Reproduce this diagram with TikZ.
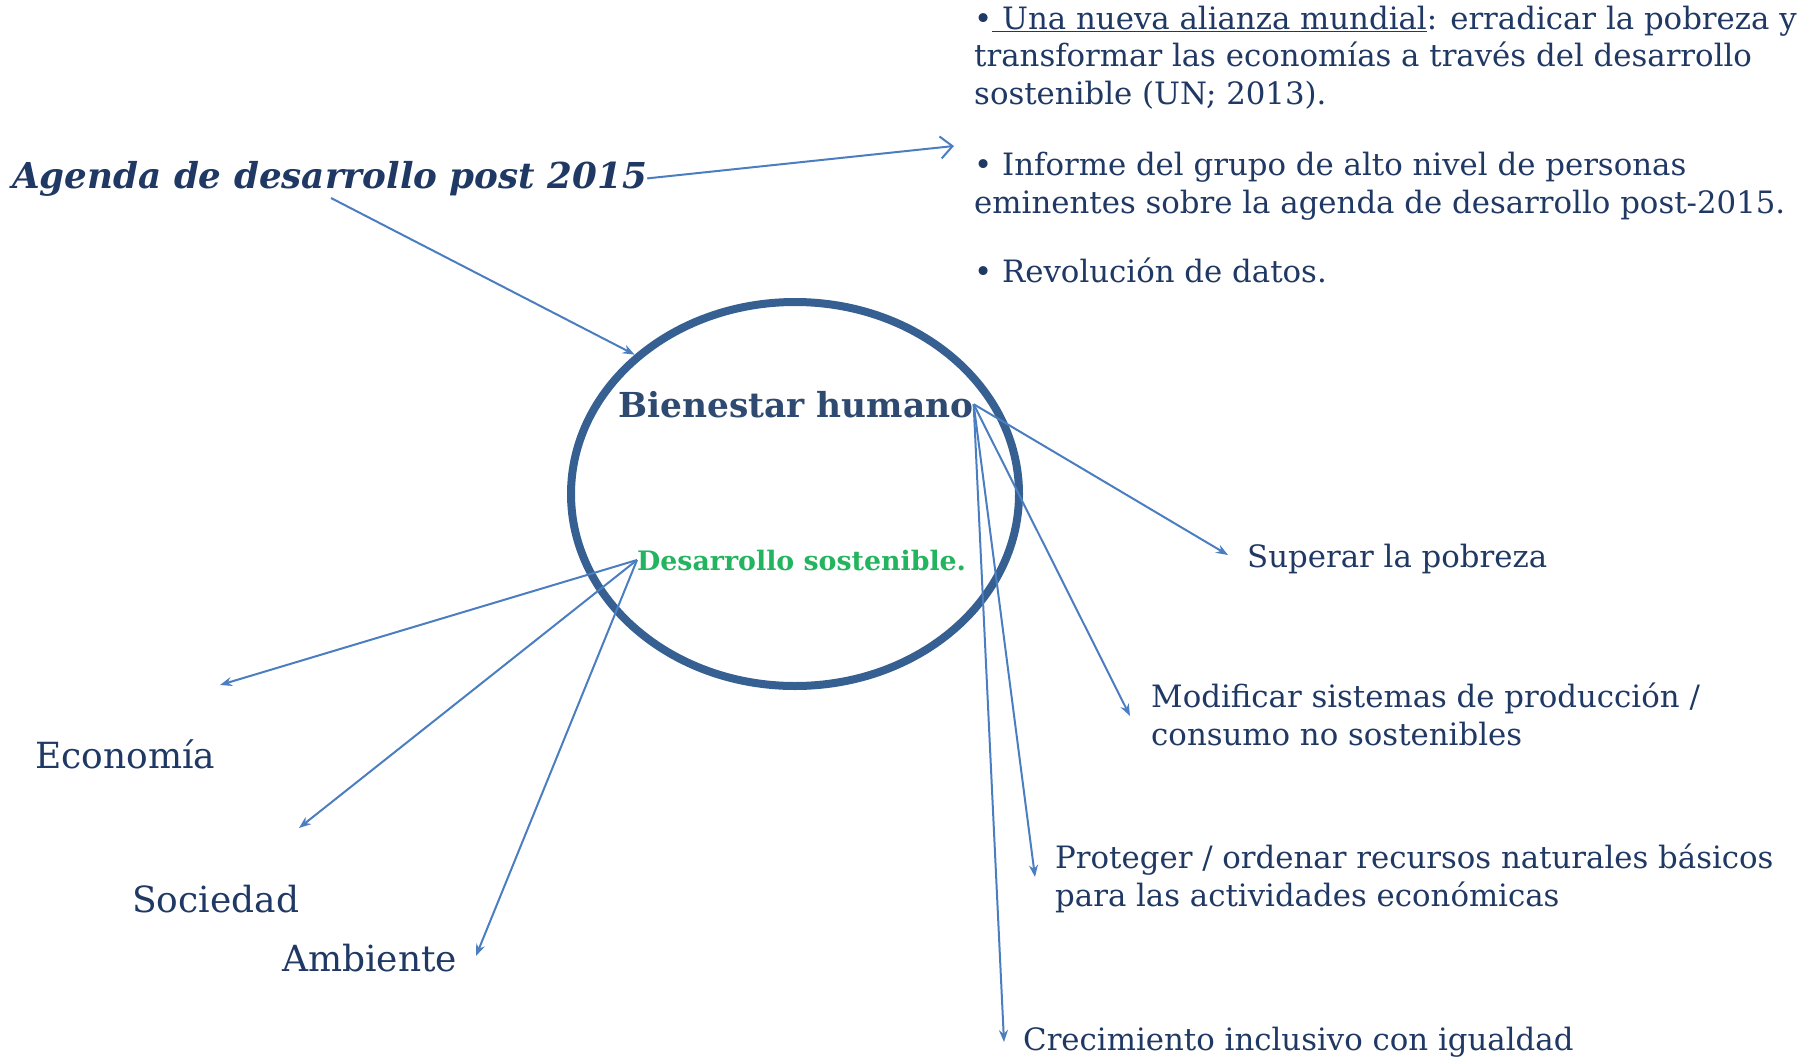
\documentclass[tikz,border=0pt]{standalone}
\usepackage{fontspec}
\setmainfont{DejaVu Serif}
\usetikzlibrary{arrows.meta,shapes.geometric}
\definecolor{navy}{RGB}{31,56,100}
\definecolor{ringblue}{RGB}{54,96,146}
\definecolor{arrowblue}{RGB}{74,126,193}
\definecolor{titleblue}{RGB}{46,74,112}
\definecolor{sgreen}{RGB}{35,180,95}
\begin{document}
\begin{tikzpicture}[x=1pt,y=-1pt,
  lbl/.style={anchor=base west, inner sep=0pt, text=navy, font=\fontsize{30.8}{37.5}\selectfont, align=left},
  big/.style={anchor=base west, inner sep=0pt, text=navy, font=\fontsize{36}{42}\selectfont},
  conn/.style={draw=arrowblue, line width=2pt, -{Stealth[length=12pt,width=9pt]}},
  openarrow/.style={draw=arrowblue, line width=2pt, -{Straight Barb[length=12pt,width=22pt]}},
]
\useasboundingbox (0,0) rectangle (1806,1060);

% ring
\node[draw=ringblue, line width=8pt, ellipse, minimum width=448pt, minimum height=384pt, inner sep=0pt] (ring) at (795,494) {};

% central texts
\node[anchor=base west, inner sep=0pt, text=titleblue, font=\fontsize{34.4}{40}\selectfont\bfseries] (bh) at (618,417) {Bienestar humano};
\node[anchor=base west, inner sep=0pt, text=sgreen, font=\fontsize{26.8}{32}\selectfont\bfseries] (ds) at (637,570) {Desarrollo sostenible.};

% title
\node[anchor=base west, inner sep=0pt, text=navy, font=\fontsize{35.7}{44}\selectfont\bfseries\itshape] (ag) at (12,188) {Agenda de desarrollo post 2015};

% bullets (base anchor = baseline of last line)
\node[lbl] (b1) at (974,104) {•\underline{\ Una nueva alianza mundial}: erradicar la pobreza y\\transformar las economías a través del desarrollo\\sostenible (UN; 2013).};
\node[lbl] (b2) at (974,213) {• Informe del grupo de alto nivel de personas\\eminentes sobre la agenda de desarrollo post-2015.};
\node[lbl] (b3) at (974,282) {• Revolución de datos.};

% right labels
\node[lbl] (sup) at (1247,567) {Superar la pobreza};
\node[lbl] (mod) at (1151,745) {Modificar sistemas de producción /\\consumo no sostenibles};
\node[lbl] (pro) at (1055,906) {Proteger / ordenar recursos naturales básicos\\para las actividades económicas};
\node[lbl] (cre) at (1023,1050) {Crecimiento inclusivo con igualdad};

% left labels
\node[big] (eco) at (35,768) {Economía};
\node[big] (soc) at (132,912) {Sociedad};
\node[big] (amb) at (282,971) {Ambiente};

% connector end points
\coordinate (agtop) at (954,146);
\coordinate (agfoot) at (331,198);
\coordinate (esup) at (1228,555);
\coordinate (emod) at (1130,716);
\coordinate (epro) at (1035,877);
\coordinate (ecre) at (1004,1042);
\coordinate (eeco) at (220,685);
\coordinate (esoc) at (299,828);
\coordinate (eamb) at (476,956);

% connectors
\draw[openarrow] (ag.east) -- (agtop);
\draw[conn] (agfoot) -- (ring.139);
\draw[conn] (bh.east) -- (esup);
\draw[conn] (bh.east) -- (emod);
\draw[conn] (bh.east) -- (epro);
\draw[conn] (bh.east) -- (ecre);
\draw[conn] (ds.west) -- (eeco);
\draw[conn] (ds.west) -- (esoc);
\draw[conn] (ds.west) -- (eamb);
\end{tikzpicture}
\end{document}
